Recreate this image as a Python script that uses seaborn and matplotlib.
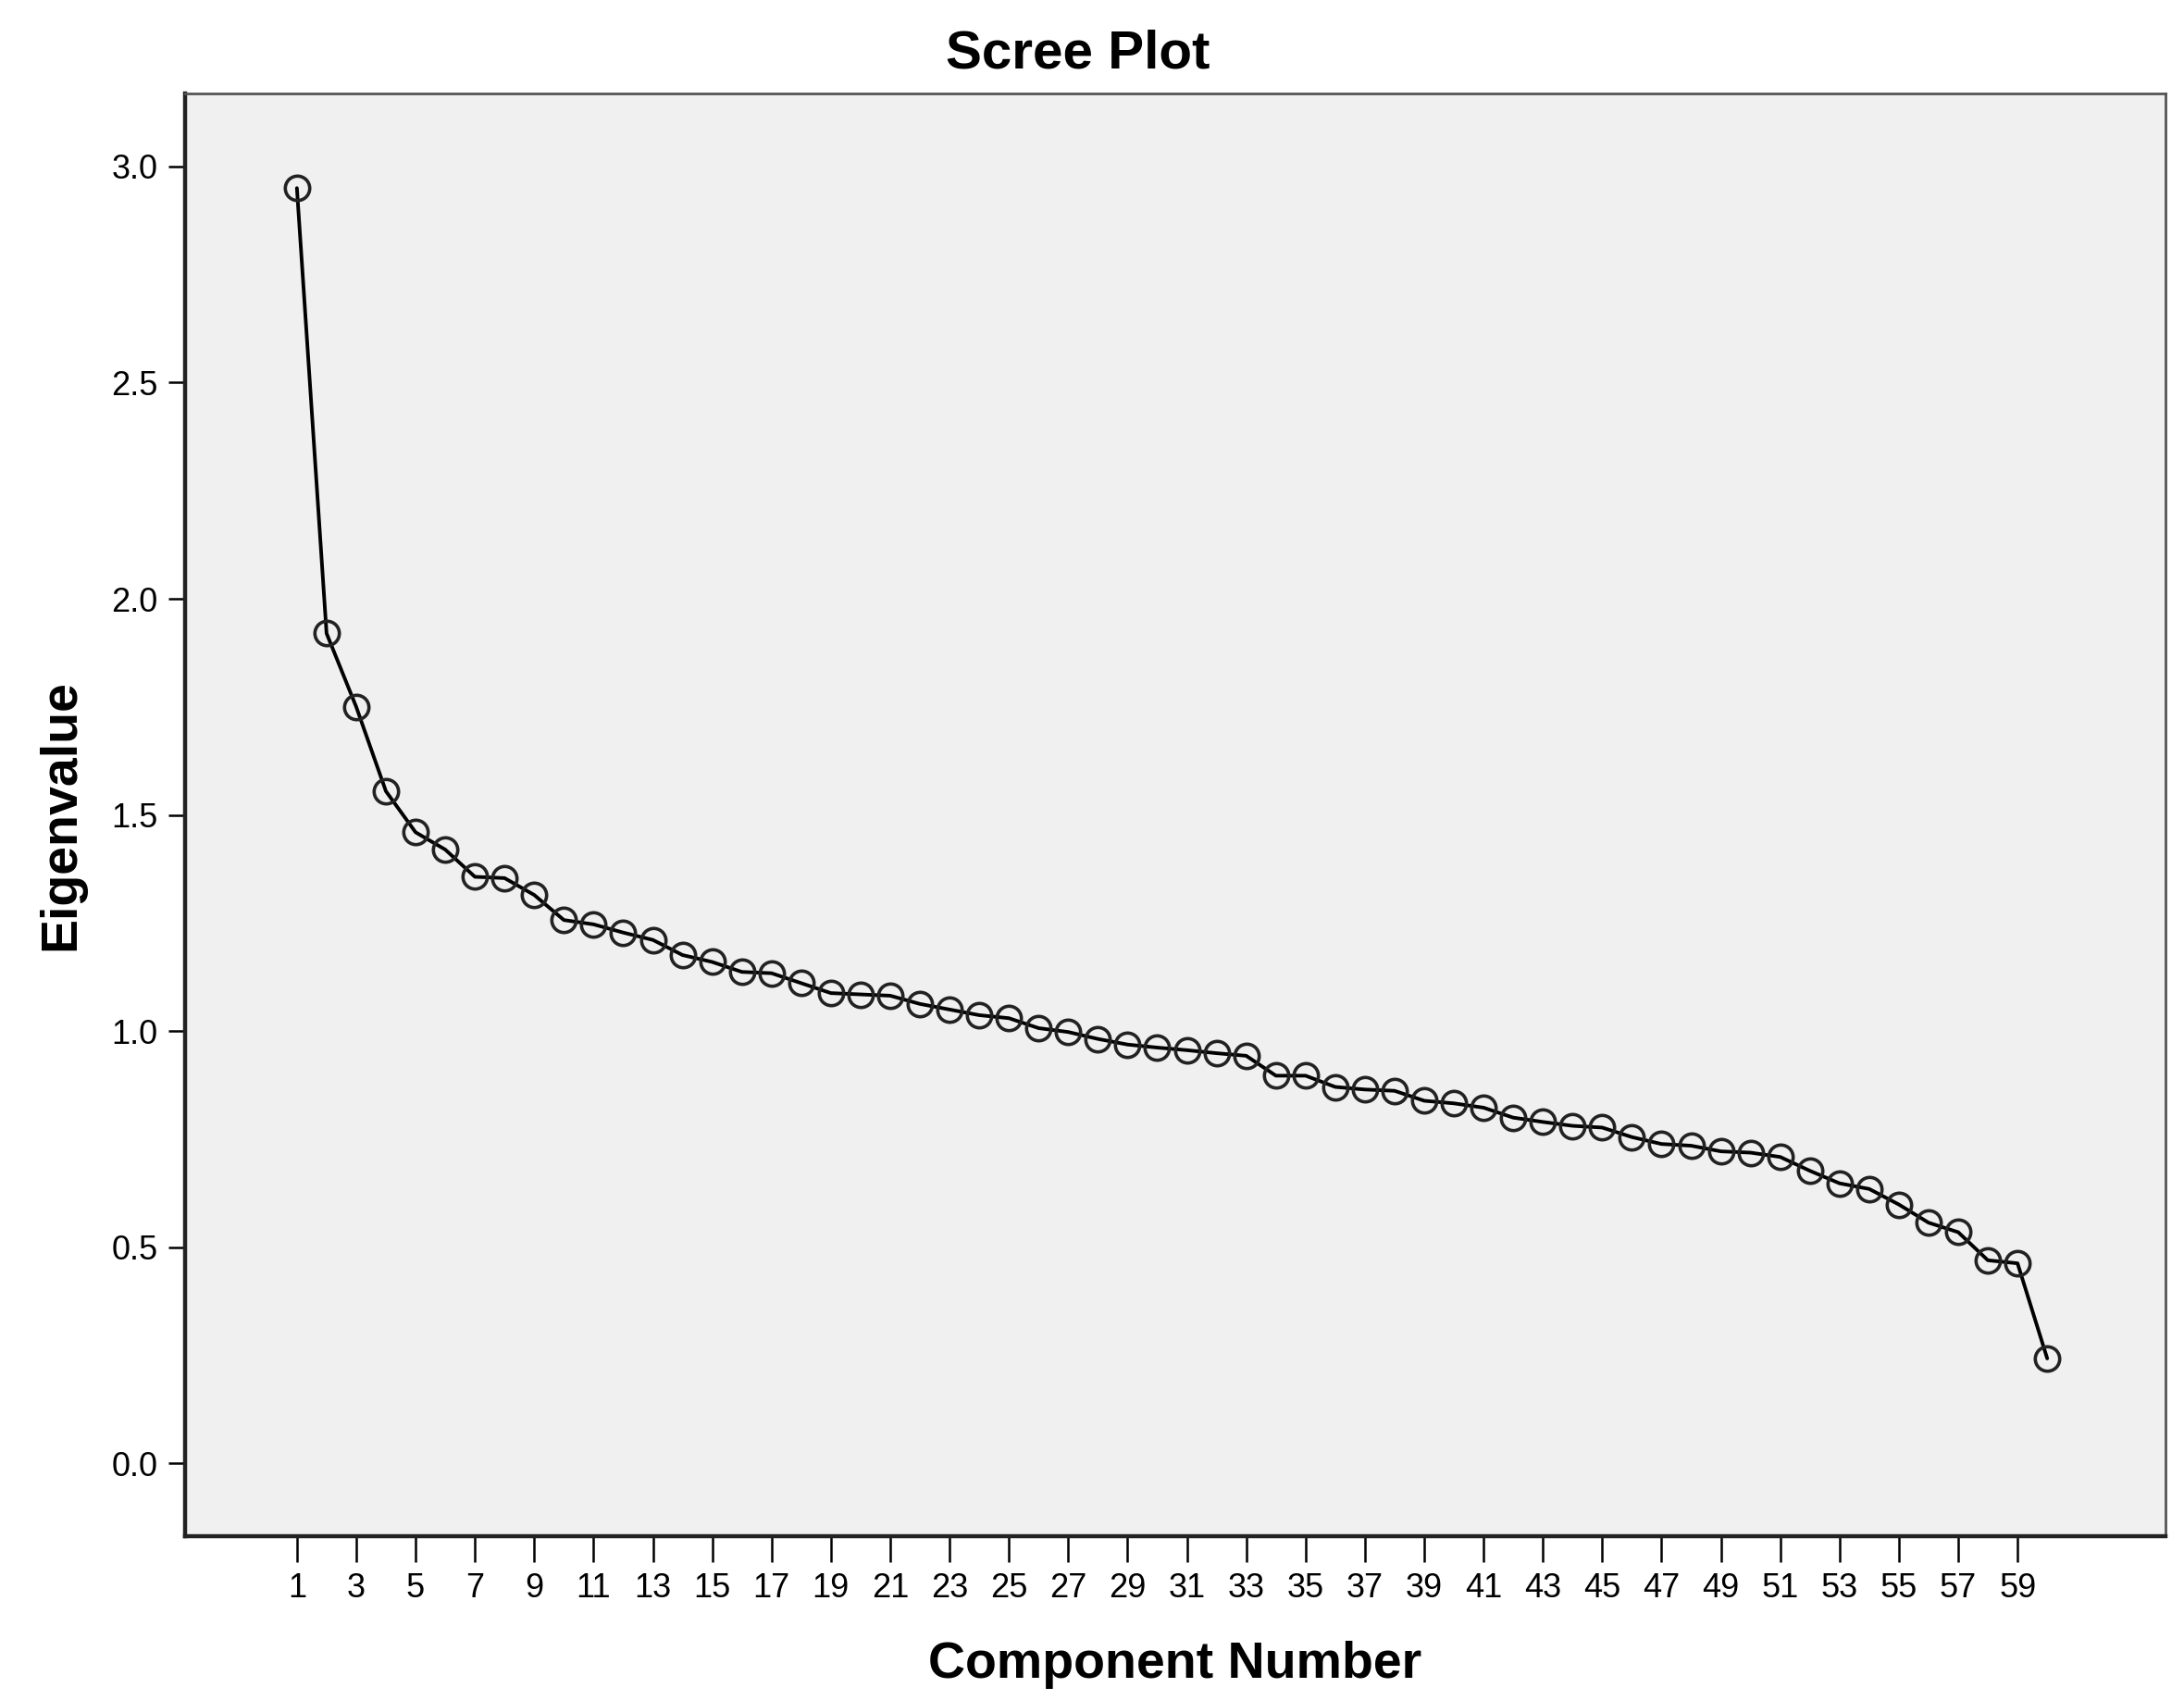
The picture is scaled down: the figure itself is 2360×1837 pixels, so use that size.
import numpy as np
import pandas as pd
import seaborn as sns
from matplotlib import pyplot as plt

# eigenvalues
components = list(range(1, 61))
eigenvalues = [2.95, 1.92, 1.75, 1.555, 1.46, 1.42, 1.357, 1.354, 1.315, 1.257,
               1.247, 1.228, 1.211, 1.176, 1.160, 1.137, 1.134, 1.111, 1.088, 1.085,
               1.082, 1.063, 1.050, 1.037, 1.030, 1.007, 0.998, 0.982, 0.969, 0.962,
               0.956, 0.949, 0.943, 0.897, 0.897, 0.871, 0.865, 0.862, 0.839, 0.833,
               0.823, 0.800, 0.790, 0.781, 0.777, 0.755, 0.739, 0.735, 0.722, 0.719,
               0.709, 0.677, 0.648, 0.635, 0.599, 0.557, 0.535, 0.470, 0.463, 0.243]
x_ticks = list(range(1, 61, 2))
y_ticks = [0.0, 0.5, 1.0, 1.5, 2.0, 2.5, 3.0]

sns.set_style('white', {'text.color': 'black', 'axes.labelcolor': 'black',
                        'xtick.color': 'black', 'ytick.color': 'black'})
plt.rcParams['font.family'] = ['Liberation Sans', 'DejaVu Sans']

df = pd.DataFrame({'Component Number': components, 'Eigenvalue': eigenvalues})

fig = plt.figure(figsize=(11.8, 9.185), dpi=200)
ax = fig.add_axes([0.0846, 0.0964, 0.9071, 0.8484])
ax.set_facecolor('#F0F0F0')

sns.lineplot(data=df, x='Component Number', y='Eigenvalue', ax=ax,
             color='black', linewidth=1.4, marker='o', markersize=9.5,
             markerfacecolor='none', markeredgecolor='#222222',
             markeredgewidth=1.3)

ax.set_xlim(-2.78, 64.0)
ax.set_ylim(-0.168, 3.168)
ax.set_xticks(x_ticks)
ax.set_yticks(y_ticks)
ax.set_yticklabels([f'{v:.1f}' for v in y_ticks])
ax.tick_params(axis='x', direction='out', length=10, width=0.9,
               labelsize=13, pad=4, color='black', labelcolor='black', bottom=True)
ax.tick_params(axis='y', direction='out', length=6.5, width=0.9,
               labelsize=13, pad=4, color='black', labelcolor='black', left=True)

for side in ['left', 'bottom']:
    ax.spines[side].set_color('#222222')
    ax.spines[side].set_linewidth(1.6)
for side in ['top', 'right']:
    ax.spines[side].set_color('#555555')
    ax.spines[side].set_linewidth(1.0)

ax.set_title('Scree Plot', fontsize=21, fontweight='bold', pad=10, x=0.451, color='black')
ax.set_xlabel('Component Number', fontsize=20, fontweight='bold', labelpad=14, color='black')
ax.set_ylabel('Eigenvalue', fontsize=20, fontweight='bold', labelpad=10, color='black')

fig.savefig('out.png', dpi=200, facecolor='white')
